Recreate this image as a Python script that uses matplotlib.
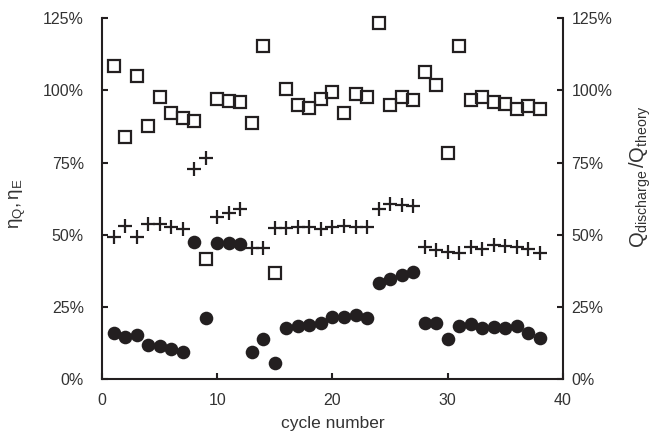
import numpy as np
import matplotlib
matplotlib.use("Agg")
import matplotlib.pyplot as plt
from matplotlib.ticker import FuncFormatter

# =========================================================
# Data: per-cycle efficiencies and capacity ratio (percent)
# =========================================================

cycles = list(range(1, 39))

# Q_discharge / Q_theory  (open squares)
capacity_ratio = [108.5, 83.7, 105.0, 87.8, 97.7, 92.2, 90.5, 89.3, 41.6, 97.1,
                  96.3, 95.8, 88.7, 115.5, 36.6, 100.3, 94.9, 94.0, 97.1, 99.4,
                  92.3, 98.8, 97.6, 123.5, 94.9, 97.6, 96.8, 106.4, 101.9, 78.4,
                  115.5, 96.8, 97.6, 96.0, 95.1, 93.7, 94.5, 93.7]

# eta_Q  (plus markers)
eta_q = [49.1, 53.1, 49.3, 53.6, 53.6, 52.5, 51.8, 72.9, 76.4, 56.2,
         57.6, 58.8, 45.5, 45.5, 52.2, 52.2, 52.7, 52.7, 51.8, 52.7,
         53.0, 52.7, 52.7, 58.8, 60.8, 60.2, 59.9, 45.8, 44.7, 44.1,
         43.7, 45.8, 45.2, 46.4, 46.0, 45.9, 45.2, 43.7]

# eta_E  (filled circles)
eta_e = [15.8, 14.7, 15.2, 11.8, 11.4, 10.4, 9.5, 47.5, 21.2, 47.2,
         47.2, 46.6, 9.5, 13.7, 5.6, 17.8, 18.4, 18.7, 19.5, 21.4,
         21.4, 22.2, 21.0, 33.4, 34.5, 36.0, 37.2, 19.5, 19.5, 13.7,
         18.4, 19.0, 17.6, 18.1, 17.8, 18.4, 15.8, 14.1]

pct_ticks = [0, 25, 50, 75, 100, 125]

# =========================================================
# Style
# =========================================================

plt.rcParams["font.family"] = ["Liberation Sans", "DejaVu Sans"]
plt.rcParams["font.size"] = 11.5
plt.rcParams["mathtext.fontset"] = "custom"
plt.rcParams["mathtext.rm"] = "Liberation Sans"
plt.rcParams["mathtext.it"] = "Liberation Sans"
plt.rcParams["mathtext.bf"] = "Liberation Sans:bold"

ink = "#231f20"
text_col = "#333333"
pct = FuncFormatter(lambda v, _: f"{v:.0f}%")

fig = plt.figure(figsize=(6.59, 4.33), dpi=100)
ax = fig.add_axes([0.1548, 0.1247, 0.6995, 0.8333])

ax.plot(cycles, capacity_ratio, linestyle="none", marker="s", markersize=8.3,
        markerfacecolor="none", markeredgecolor=ink, markeredgewidth=1.6,
        clip_on=False)
ax.plot(cycles, eta_q, linestyle="none", marker="+", markersize=9.5,
        color=ink, markeredgewidth=1.6, clip_on=False)
ax.plot(cycles, eta_e, linestyle="none", marker="o", markersize=9.8,
        color=ink, markeredgewidth=0, clip_on=False)

ax.set_xlim(0, 40)
ax.set_ylim(0, 125)
ax.set_xticks([0, 10, 20, 30, 40])
ax.set_yticks(pct_ticks)
ax.yaxis.set_major_formatter(pct)

ax.spines["top"].set_visible(False)
ax.spines["right"].set_visible(False)
for s in ["left", "bottom"]:
    ax.spines[s].set_linewidth(1.5)
    ax.spines[s].set_color(ink)

ax.tick_params(axis="y", direction="in", length=4, width=1.5, pad=13,
               color=ink, labelcolor=text_col)
ax.tick_params(axis="x", direction="in", length=4, width=1.5, pad=10,
               color=ink, labelcolor=text_col)

ax.set_xlabel("cycle number", fontsize=12.5, color=text_col, labelpad=6)
ax.set_ylabel(r"$\mathregular{\eta_Q, \eta_E}$", fontsize=13.5,
              color=text_col)
ax.yaxis.set_label_coords(-0.16, 0.485)

# right-hand axis: same scale, labelled as capacity ratio
ax2 = ax.twinx()
ax2.set_ylim(0, 125)
ax2.set_yticks(pct_ticks)
ax2.yaxis.set_major_formatter(pct)
ax2.spines["top"].set_visible(False)
ax2.spines["left"].set_visible(False)
ax2.spines["bottom"].set_visible(False)
ax2.spines["right"].set_linewidth(1.5)
ax2.spines["right"].set_color(ink)
ax2.tick_params(axis="y", direction="in", length=4, width=1.5, pad=6,
                color=ink, labelcolor=text_col)
ax2.set_ylabel(r"$\mathregular{Q_{discharge}\,/Q_{theory}}$", fontsize=14.5,
               color=text_col)
ax2.yaxis.set_label_coords(1.141, 0.56)

fig.savefig("out.png", dpi=100)
